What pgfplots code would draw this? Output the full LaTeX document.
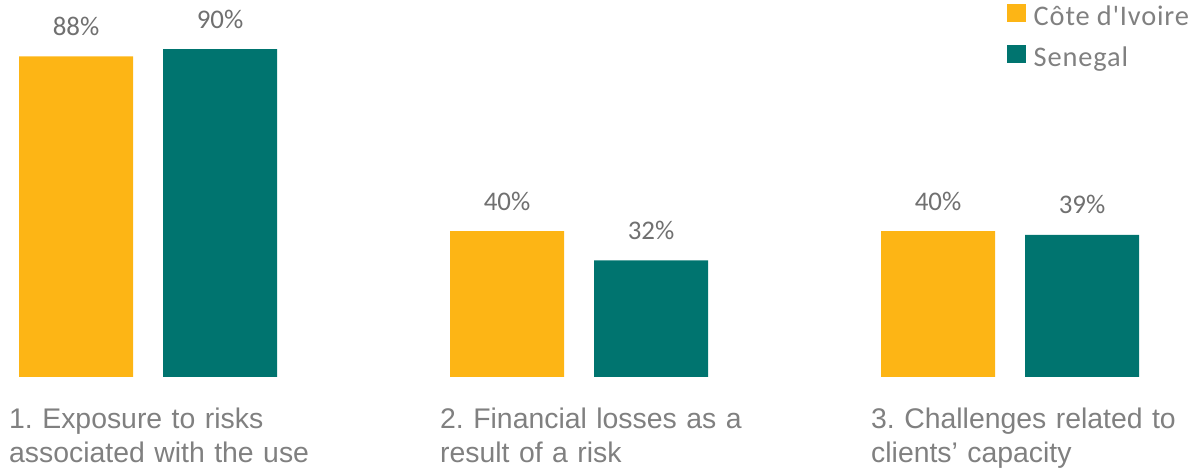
\documentclass[border=0pt]{standalone}
\usepackage{pgfplots}
\pgfplotsset{compat=1.18}
\usepackage{fontspec}
\setmainfont{Liberation Sans}
\newfontfamily\calfont{Carlito}
\newfontfamily\legfont[LetterSpace=3]{Carlito}
\definecolor{cOrange}{HTML}{FDB515}
\definecolor{cTeal}{HTML}{00746F}
\definecolor{valgray}{HTML}{707070}
\definecolor{catgray}{HTML}{808080}
\frenchspacing
\begin{document}
\begin{tikzpicture}
\begin{axis}[
  scale only axis, width=1197bp, height=377bp,
  xmin=-0.3434, xmax=2.4339, ymin=0, ymax=103.46,
  axis line style={draw=none},
  major tick length=0pt,
  ytick=\empty,
  /pgf/number format/assume math mode=true,
  ybar=30bp, bar width=114bp,
  xtick={0,1,2},
  xticklabels={{1. Exposure to risks\\associated with the use},{2. Financial losses as a\\result of a risk},{3. Challenges related to\\clients’ capacity}},
  xticklabel style={anchor=north west, xshift=-139bp, yshift=-31bp, text width=340bp, align=left, inner sep=0pt, font=\fontsize{28.5}{34}\selectfont, text=catgray},
  nodes near coords={\pgfmathprintnumber{\pgfplotspointmeta}\%},
  every node near coord/.append style={anchor=base, yshift=21bp, inner sep=0pt, font=\calfont\fontsize{27}{30}\selectfont, text=valgray},
  legend style={at={(rel axis cs:0.8413,0.991)}, anchor=north west, draw=none, fill=none, inner sep=0pt, font=\legfont\fontsize{28.5}{30}\selectfont, text=catgray, nodes={inner sep=0pt}, row sep=18bp, /tikz/every odd column/.append style={column sep=8bp}},
  legend cell align=left,
  legend image code/.code={\fill[#1] (0bp,-6bp) rectangle (18.5bp,12.5bp);},
]
\addplot[fill=cOrange, draw=none] coordinates {(0,88) (1,40) (2,40)};
\addplot[fill=cTeal, draw=none] coordinates {(0,90) (1,32) (2,39)};
\legend{Côte d'Ivoire, Senegal}
\end{axis}
\pgfresetboundingbox
\useasboundingbox (current axis.south west) ++(0,-96bp) rectangle (current axis.north east);
\end{tikzpicture}
\end{document}
